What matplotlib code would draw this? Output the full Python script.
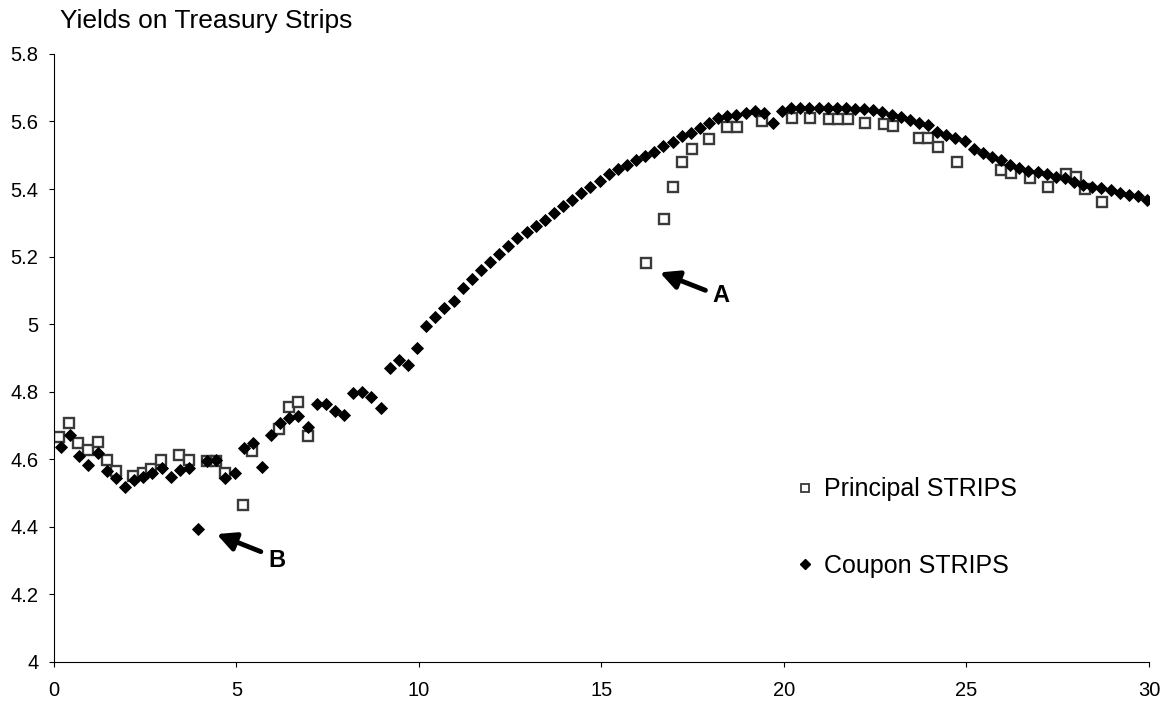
import matplotlib.pyplot as plt
from matplotlib.lines import Line2D

plt.rcParams['font.family'] = ['Liberation Sans', 'DejaVu Sans']

# coupon strips, quarterly maturities (years) and yields (%)
coupon_mat = [0.2, 0.45, 0.7, 0.95, 1.2, 1.45, 1.7, 1.95, 2.2, 2.45,
              2.7, 2.95, 3.2, 3.45, 3.7, 3.95, 4.2, 4.45, 4.7, 4.95,
              5.2, 5.45, 5.7, 5.95, 6.2, 6.45, 6.7, 6.95, 7.2, 7.45,
              7.7, 7.95, 8.2, 8.45, 8.7, 8.95, 9.2, 9.45, 9.7, 9.95,
              10.2, 10.45, 10.7, 10.95, 11.2, 11.45, 11.7, 11.95, 12.2, 12.45,
              12.7, 12.95, 13.2, 13.45, 13.7, 13.95, 14.2, 14.45, 14.7, 14.95,
              15.2, 15.45, 15.7, 15.95, 16.2, 16.45, 16.7, 16.95, 17.2, 17.45,
              17.7, 17.95, 18.2, 18.45, 18.7, 18.95, 19.2, 19.45, 19.7, 19.95,
              20.2, 20.45, 20.7, 20.95, 21.2, 21.45, 21.7, 21.95, 22.2, 22.45,
              22.7, 22.95, 23.2, 23.45, 23.7, 23.95, 24.2, 24.45, 24.7, 24.95,
              25.2, 25.45, 25.7, 25.95, 26.2, 26.45, 26.7, 26.95, 27.2, 27.45,
              27.7, 27.95, 28.2, 28.45, 28.7, 28.95, 29.2, 29.45, 29.7, 29.95]
coupon_yld = [4.637, 4.672, 4.609, 4.583, 4.619, 4.566, 4.545, 4.517, 4.538, 4.548,
              4.558, 4.573, 4.548, 4.568, 4.573, 4.393, 4.593, 4.598, 4.543, 4.560,
              4.632, 4.647, 4.578, 4.672, 4.706, 4.721, 4.728, 4.696, 4.764, 4.764,
              4.744, 4.731, 4.797, 4.800, 4.785, 4.751, 4.869, 4.894, 4.879, 4.929,
              4.993, 5.020, 5.047, 5.067, 5.106, 5.133, 5.161, 5.185, 5.208, 5.230,
              5.254, 5.274, 5.289, 5.307, 5.329, 5.350, 5.368, 5.387, 5.405, 5.425,
              5.445, 5.460, 5.472, 5.486, 5.498, 5.511, 5.526, 5.538, 5.556, 5.567,
              5.580, 5.595, 5.610, 5.615, 5.620, 5.625, 5.630, 5.625, 5.597, 5.630,
              5.640, 5.641, 5.641, 5.641, 5.641, 5.640, 5.640, 5.636, 5.636, 5.633,
              5.627, 5.619, 5.613, 5.605, 5.597, 5.590, 5.570, 5.561, 5.551, 5.541,
              5.518, 5.508, 5.496, 5.486, 5.472, 5.462, 5.454, 5.449, 5.443, 5.437,
              5.432, 5.422, 5.412, 5.407, 5.403, 5.396, 5.388, 5.383, 5.378, 5.366]

# principal strips
principal_mat = [0.15, 0.42, 0.67, 0.94, 1.20, 1.45, 1.70, 2.18, 2.45, 2.66,
                 2.94, 3.44, 3.71, 4.19, 4.44, 4.69, 5.19, 5.42, 6.18, 6.43,
                 6.70, 6.95,
                 16.23, 16.72, 16.97, 17.20, 17.47, 17.95, 18.44, 18.71, 19.40, 20.22,
                 20.72, 21.23, 21.47, 21.75, 22.23, 22.73, 22.98, 23.71, 23.96, 24.23,
                 24.74, 25.95, 26.23, 26.73, 27.23, 27.74, 28.00, 28.24, 28.72]
principal_yld = [4.667, 4.706, 4.649, 4.627, 4.652, 4.598, 4.566, 4.550, 4.560, 4.572,
                 4.598, 4.612, 4.598, 4.593, 4.595, 4.558, 4.464, 4.625, 4.689, 4.754,
                 4.770, 4.669,
                 5.182, 5.312, 5.406, 5.480, 5.518, 5.549, 5.583, 5.585, 5.602, 5.610,
                 5.610, 5.607, 5.607, 5.607, 5.595, 5.592, 5.587, 5.551, 5.551, 5.523,
                 5.481, 5.457, 5.447, 5.434, 5.406, 5.445, 5.437, 5.400, 5.361]

fig = plt.figure(figsize=(11.7, 7.1), dpi=100)
ax = fig.add_axes([0.046, 0.068, 0.936, 0.856])

ax.plot(principal_mat, principal_yld, ls='none', marker='s', ms=7.8,
        mfc='white', mec='#3a3a3a', mew=1.7, zorder=2)
ax.plot(coupon_mat, coupon_yld, ls='none', marker='D', ms=6.6,
        mfc='black', mec='black', mew=0.6, zorder=3)

ax.set_xlim(0, 30)
ax.set_ylim(4, 5.8)
ax.set_xticks([0, 5, 10, 15, 20, 25, 30])
ax.set_yticks([4, 4.2, 4.4, 4.6, 4.8, 5, 5.2, 5.4, 5.6, 5.8])
ax.set_yticklabels(['4', '4.2', '4.4', '4.6', '4.8', '5', '5.2', '5.4', '5.6', '5.8'])
ax.tick_params(direction='out', length=3.6, labelsize=14.5)
ax.tick_params(axis='x', pad=10)
ax.tick_params(axis='y', pad=7.5)
ax.spines['top'].set_visible(False)
ax.spines['right'].set_visible(False)

fig.text(0.0513, 0.960, 'Yields on Treasury Strips', fontsize=19, va='baseline')

# annotations
arrow = dict(arrowstyle='-|>', lw=3.5, color='black', mutation_scale=28,
             shrinkA=0, shrinkB=0)
ax.annotate('', xy=(16.6, 5.153), xytext=(17.85, 5.10), arrowprops=arrow)
ax.text(18.05, 5.084, 'A', fontsize=17, fontweight='bold', va='center', ha='left')
ax.annotate('', xy=(4.46, 4.378), xytext=(5.67, 4.326), arrowprops=arrow)
ax.text(5.87, 4.301, 'B', fontsize=17, fontweight='bold', va='center', ha='left')

handles = [Line2D([], [], ls='none', marker='s', ms=5.5, mfc='white', mec='#3a3a3a', mew=1.3),
           Line2D([], [], ls='none', marker='D', ms=5.0, mfc='black', mec='black')]
ax.legend(handles, ['Principal STRIPS', 'Coupon STRIPS'], loc='center left',
          bbox_to_anchor=(0.669, 0.257), bbox_transform=fig.transFigure,
          borderaxespad=0, frameon=False, fontsize=18,
          labelspacing=2.1, handletextpad=0.24, handlelength=1.0)

fig.savefig('out.png', dpi=100)
